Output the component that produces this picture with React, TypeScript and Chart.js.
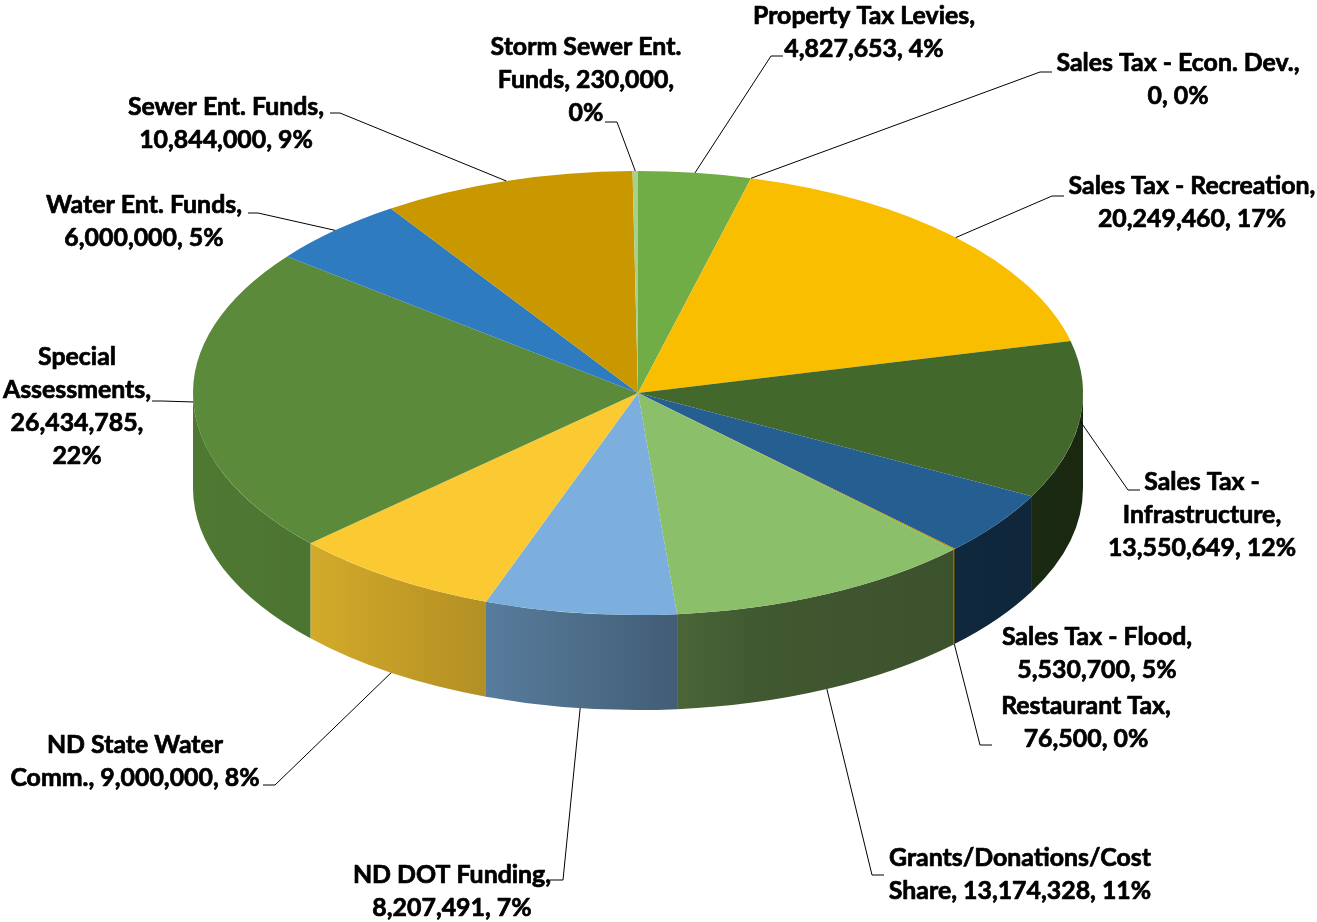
import React, { useEffect, useRef } from "react";
import { Chart, registerables } from "chart.js";

Chart.register(...registerables);

// ---- data ----
const categories = [
  "Property Tax Levies",
  "Sales Tax - Econ. Dev.",
  "Sales Tax - Recreation",
  "Sales Tax - Infrastructure",
  "Sales Tax - Flood",
  "Restaurant Tax",
  "Grants/Donations/Cost Share",
  "ND DOT Funding",
  "ND State Water Comm.",
  "Special Assessments",
  "Water Ent. Funds",
  "Sewer Ent. Funds",
  "Storm Sewer Ent. Funds",
];
const values = [
  4827653, 0, 20249460, 13550649, 5530700, 76500, 13174328, 8207491, 9000000,
  26434785, 6000000, 10844000, 230000,
];
const percentLabels = [4, 0, 17, 12, 5, 0, 11, 7, 8, 22, 5, 9, 0];

// ---- styles / layout ----
const sliceColors = [
  "#70ad47",
  "#4472c4",
  "#f9be00",
  "#43682b",
  "#255e91",
  "#b08b00",
  "#8bbf69",
  "#7cafdd",
  "#fbca32",
  "#5a8a3a",
  "#2f7bc0",
  "#c99800",
  "#a8d08d",
];
// words per wrapped line for each data label
const lineWordCounts = [
  [3, 2],
  [5, 2],
  [4, 2],
  [3, 1, 2],
  [4, 2],
  [2, 2],
  [1, 3],
  [3, 2],
  [3, 3],
  [1, 1, 1, 1],
  [3, 2],
  [3, 2],
  [3, 2, 1],
];
// label block centre x, first line centre y, leader stub [x start, y, x end]
const labelX = [864, 1178, 1192, 1202, 1097, 1086, 1020, 452, 135, 77, 144, 226, 586];
const labelY = [16, 63, 186, 482, 637, 706, 858, 875, 745, 357, 205, 107, 47];
const leaderStubs: (number[] | null)[] = [
  [783, 56, 771],
  [1052, 72, 1040],
  [1064, 196, 1052],
  [1140, 490, 1128],
  null,
  [992, 745, 980],
  [884, 875, 872],
  [550, 880, 563],
  [263, 785, 275],
  [152, 401, 162],
  [248, 213, 258],
  [330, 113, 340],
  [605, 122, 617],
];
// side-wall lighting: [position across pie width (0..1), brightness factor]
const wallLight = [
  [0, 0.88],
  [0.134, 0.84],
  [0.33, 0.71],
  [0.545, 0.53],
  [0.64, 0.46],
  [0.856, 0.43],
  [1, 0.38],
];

const W = 1317;
const H = 922;
const CENTER_Y = 393;
const TILT = 222 / 445;
const DEPTH = 95;
const LINE_H = 33;
const FONT = "bold 24px Lato";
const REF_TEXT = "Property Tax Levies,";
const REF_TEXT_W = 222;

function hexToRgb(h: string) {
  const n = parseInt(h.slice(1), 16);
  return [(n >> 16) & 255, (n >> 8) & 255, n & 255];
}
function shadeColor(h: string, f: number) {
  const [r, g, b] = hexToRgb(h);
  return `rgb(${Math.round(r * f)},${Math.round(g * f)},${Math.round(b * f)})`;
}
function lightAt(u: number) {
  const t = Math.min(1, Math.max(0, u));
  for (let i = 1; i < wallLight.length; i++) {
    const [u0, f0] = wallLight[i - 1];
    const [u1, f1] = wallLight[i];
    if (t <= u1) return f0 + ((t - u0) / (u1 - u0)) * (f1 - f0);
  }
  return wallLight[wallLight.length - 1][1];
}

const pie3d = {
  id: "pie3d",
  beforeDatasetsDraw(chart: any) {
    const ctx = chart.ctx as CanvasRenderingContext2D;
    const meta = chart.getDatasetMeta(0);
    const arcs = meta.data as any[];
    if (!arcs.length) return;
    const cx = arcs[0].x;
    const cyC = arcs[0].y;
    const r = arcs[0].outerRadius;
    const ry = r * TILT;
    const cy = CENTER_Y;
    arcs.forEach((arc, i) => {
      const s = Math.max(arc.startAngle, 0);
      const e = Math.min(arc.endAngle, Math.PI);
      if (e <= s) return;
      const xs = cx + r * Math.cos(s);
      const xe = cx + r * Math.cos(e);
      ctx.save();
      ctx.beginPath();
      ctx.ellipse(cx, cy, r, ry, 0, s, e, false);
      ctx.lineTo(xe, cy + ry * Math.sin(e) + DEPTH);
      ctx.ellipse(cx, cy + DEPTH, r, ry, 0, e, s, true);
      ctx.closePath();
      const col = sliceColors[i];
      const x1 = xe === xs ? xs + 1 : xe;
      const g = ctx.createLinearGradient(xs, 0, x1, 0);
      const steps = 8;
      for (let k = 0; k <= steps; k++) {
        const x = xs + ((x1 - xs) * k) / steps;
        g.addColorStop(k / steps, shadeColor(col, lightAt((x - (cx - r)) / (2 * r))));
      }
      ctx.fillStyle = g;
      ctx.fill();
      ctx.restore();
    });
    ctx.save();
    ctx.translate(0, cy);
    ctx.scale(1, TILT);
    ctx.translate(0, -cyC);
  },
  afterDatasetsDraw(chart: any) {
    const ctx = chart.ctx as CanvasRenderingContext2D;
    ctx.restore();
    const meta = chart.getDatasetMeta(0);
    const arcs = meta.data as any[];
    if (!arcs.length) return;
    const cx = arcs[0].x;
    const r = arcs[0].outerRadius;
    const ry = r * TILT;
    const cy = CENTER_Y;

    // leader lines
    ctx.save();
    ctx.strokeStyle = "#000";
    ctx.lineWidth = 1;
    arcs.forEach((arc, i) => {
      const stub = leaderStubs[i];
      if (!stub) return;
      const mid = (arc.startAngle + arc.endAngle) / 2;
      const ax = cx + r * Math.cos(mid);
      const ay = cy + ry * Math.sin(mid) + (Math.sin(mid) > 0.3 ? DEPTH : 0);
      ctx.beginPath();
      ctx.moveTo(stub[0], stub[1]);
      ctx.lineTo(stub[2], stub[1]);
      ctx.lineTo(ax, ay);
      ctx.stroke();
    });
    ctx.restore();

    // labels
    ctx.save();
    ctx.font = FONT;
    const sx = REF_TEXT_W / ctx.measureText(REF_TEXT).width;
    ctx.fillStyle = "#000";
    ctx.strokeStyle = "#000";
    ctx.lineWidth = 0.7;
    ctx.lineJoin = "round";
    ctx.textAlign = "center";
    ctx.textBaseline = "middle";
    categories.forEach((name, i) => {
      const text = `${name}, ${values[i].toLocaleString("en-US")}, ${percentLabels[i]}%`;
      const words = text.split(" ");
      let k = 0;
      lineWordCounts[i].forEach((n, li) => {
        const line = words.slice(k, k + n).join(" ");
        k += n;
        ctx.save();
        ctx.translate(labelX[i], labelY[i] + li * LINE_H);
        ctx.scale(sx, 1);
        ctx.fillText(line, 0, 0);
        ctx.strokeText(line, 0, 0);
        ctx.restore();
      });
    });
    ctx.restore();
  },
};

export default function App() {
  const ref = useRef<HTMLCanvasElement>(null);
  useEffect(() => {
    document.body.style.margin = "0";
    const canvas = ref.current;
    if (!canvas) return;
    const chart = new Chart(canvas, {
      type: "pie",
      data: {
        labels: categories,
        datasets: [
          {
            data: values,
            backgroundColor: sliceColors,
            borderWidth: 0,
            radius: 445,
            clip: false,
          } as any,
        ],
      },
      options: {
        responsive: false,
        animation: false,
        events: [],
        layout: { padding: { left: 0, right: 41, top: 0, bottom: 0 } },
        plugins: {
          legend: { display: false },
          tooltip: { enabled: false },
          title: { display: false },
        },
      },
      plugins: [pie3d],
    });
    return () => chart.destroy();
  }, []);
  return (
    <div style={{ position: "absolute", left: 0, top: 0, width: W, height: H, background: "#fff" }}>
      <canvas ref={ref} width={W} height={H} style={{ display: "block" }} />
    </div>
  );
}
